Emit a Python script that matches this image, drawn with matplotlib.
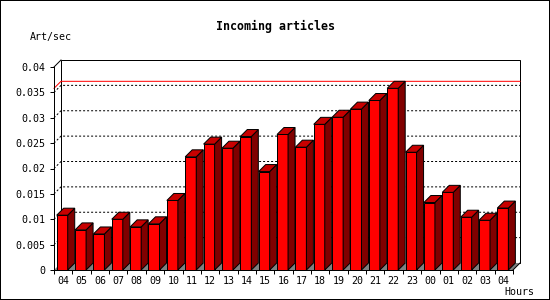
import numpy as np
import matplotlib
matplotlib.use("Agg")
import matplotlib.pyplot as plt
from matplotlib.patches import Polygon, Rectangle

# --- dati ---
hours = ['04', '05', '06', '07', '08', '09', '10', '11', '12', '13', '14', '15',
         '16', '17', '18', '19', '20', '21', '22', '23', '00', '01', '02', '03', '04']
rate = [0.0108, 0.0079, 0.0071, 0.0100, 0.0085, 0.0091, 0.0137, 0.0223, 0.0248,
        0.0240, 0.0263, 0.0194, 0.0267, 0.0242, 0.0287, 0.0301, 0.0317, 0.0334,
        0.0358, 0.0232, 0.0133, 0.0153, 0.0104, 0.0098, 0.0122]
y_ticks = [0, 0.005, 0.01, 0.015, 0.02, 0.025, 0.03, 0.035, 0.04]
y_labels = ['0', '0.005', '0.01', '0.015', '0.02', '0.025', '0.03', '0.035', '0.04']

plt.rcParams['font.family'] = 'DejaVu Sans Mono'
plt.rcParams['font.size'] = 7.2

fig = plt.figure(figsize=(5.5, 3), dpi=100)
fig.patch.set_facecolor('white')
fig.patch.set_edgecolor('black')
fig.patch.set_linewidth(1.44)

ax = fig.add_axes([54 / 550, 30 / 300, 459 / 550, 203 / 300])
ax.patch.set_alpha(0)
n = len(hours)
ax.set_xlim(-0.5, n - 0.5)
ax.set_ylim(0, 0.04)

# profondita' 3D: 7 pixel a destra e in alto, convertiti in unita' dati
depth = 7
dx = depth / (ax.bbox.width / n)
dy = depth / ax.bbox.height * 0.04

lw = 0.72  # 1 pixel

# parete di fondo
ax.add_patch(Rectangle((-0.5 + dx, dy), n, 0.04, facecolor='white',
                       edgecolor='black', lw=lw, clip_on=False, zorder=0))
# pavimento
ax.add_patch(Polygon([(-0.5, 0), (n - 0.5, 0), (n - 0.5 + dx, dy), (-0.5 + dx, dy)],
                     closed=True, facecolor='#808080', edgecolor='none',
                     clip_on=False, zorder=0.5))

# griglia tratteggiata sul fondo + parete sinistra
for v in y_ticks[1:-1]:
    ax.plot([-0.5, -0.5 + dx, n - 0.5 + dx], [v, v + dy, v + dy], color='black',
            lw=lw, linestyle=(0, (2, 2)), clip_on=False, zorder=1)

# linea del massimo
vmax = max(rate)
ax.plot([-0.5, -0.5 + dx, n - 0.5 + dx], [vmax, vmax + dy, vmax + dy],
        color='#ff0000', lw=lw, clip_on=False, zorder=1.5)

# spigoli della scatola 3D
ax.plot([-0.5, -0.5 + dx], [0.04, 0.04 + dy], color='black', lw=lw, clip_on=False)
ax.plot([n - 0.5, n - 0.5 + dx], [0, dy], color='black', lw=lw, clip_on=False, zorder=3)

# barre 3D
bw = 0.6
for i, v in enumerate(rate):
    x0 = i - 0.353
    x1 = x0 + bw
    ax.add_patch(Rectangle((x0, 0), bw, v, facecolor='#ff0000', edgecolor='black',
                           lw=lw, zorder=2, clip_on=False))
    ax.add_patch(Polygon([(x1, 0), (x1 + dx, dy), (x1 + dx, v + dy), (x1, v)],
                         closed=True, facecolor='#800000', edgecolor='black',
                         lw=lw, zorder=2, clip_on=False))
    ax.add_patch(Polygon([(x0, v), (x1, v), (x1 + dx, v + dy), (x0 + dx, v + dy)],
                         closed=True, facecolor='#c80000', edgecolor='black',
                         lw=lw, zorder=2, clip_on=False))

# assi
for s in ['top', 'right']:
    ax.spines[s].set_visible(False)
for s in ['left', 'bottom']:
    ax.spines[s].set_linewidth(lw)
    ax.spines[s].set_zorder(3)

ax.set_xticks(range(n))
ax.set_xticklabels(hours)
ax.set_xticks(np.arange(-0.5, n), minor=True)
ax.tick_params(axis='x', which='major', length=0, pad=4)
ax.tick_params(axis='x', which='minor', length=3, width=lw, direction='out')
ax.set_yticks(y_ticks)
ax.set_yticklabels(y_labels)
ax.tick_params(axis='y', length=3, width=lw, pad=3)

fig.text(275 / 550, 1 - 26.7 / 300, 'Incoming articles', ha='center', va='center',
         fontsize=8.4, fontweight='bold')
fig.text(30 / 550, 1 - 37.3 / 300, 'Art/sec', ha='left', va='center')
fig.text(534 / 550, 1 - 292.3 / 300, 'Hours', ha='right', va='center')

fig.savefig('out.png', dpi=100)
